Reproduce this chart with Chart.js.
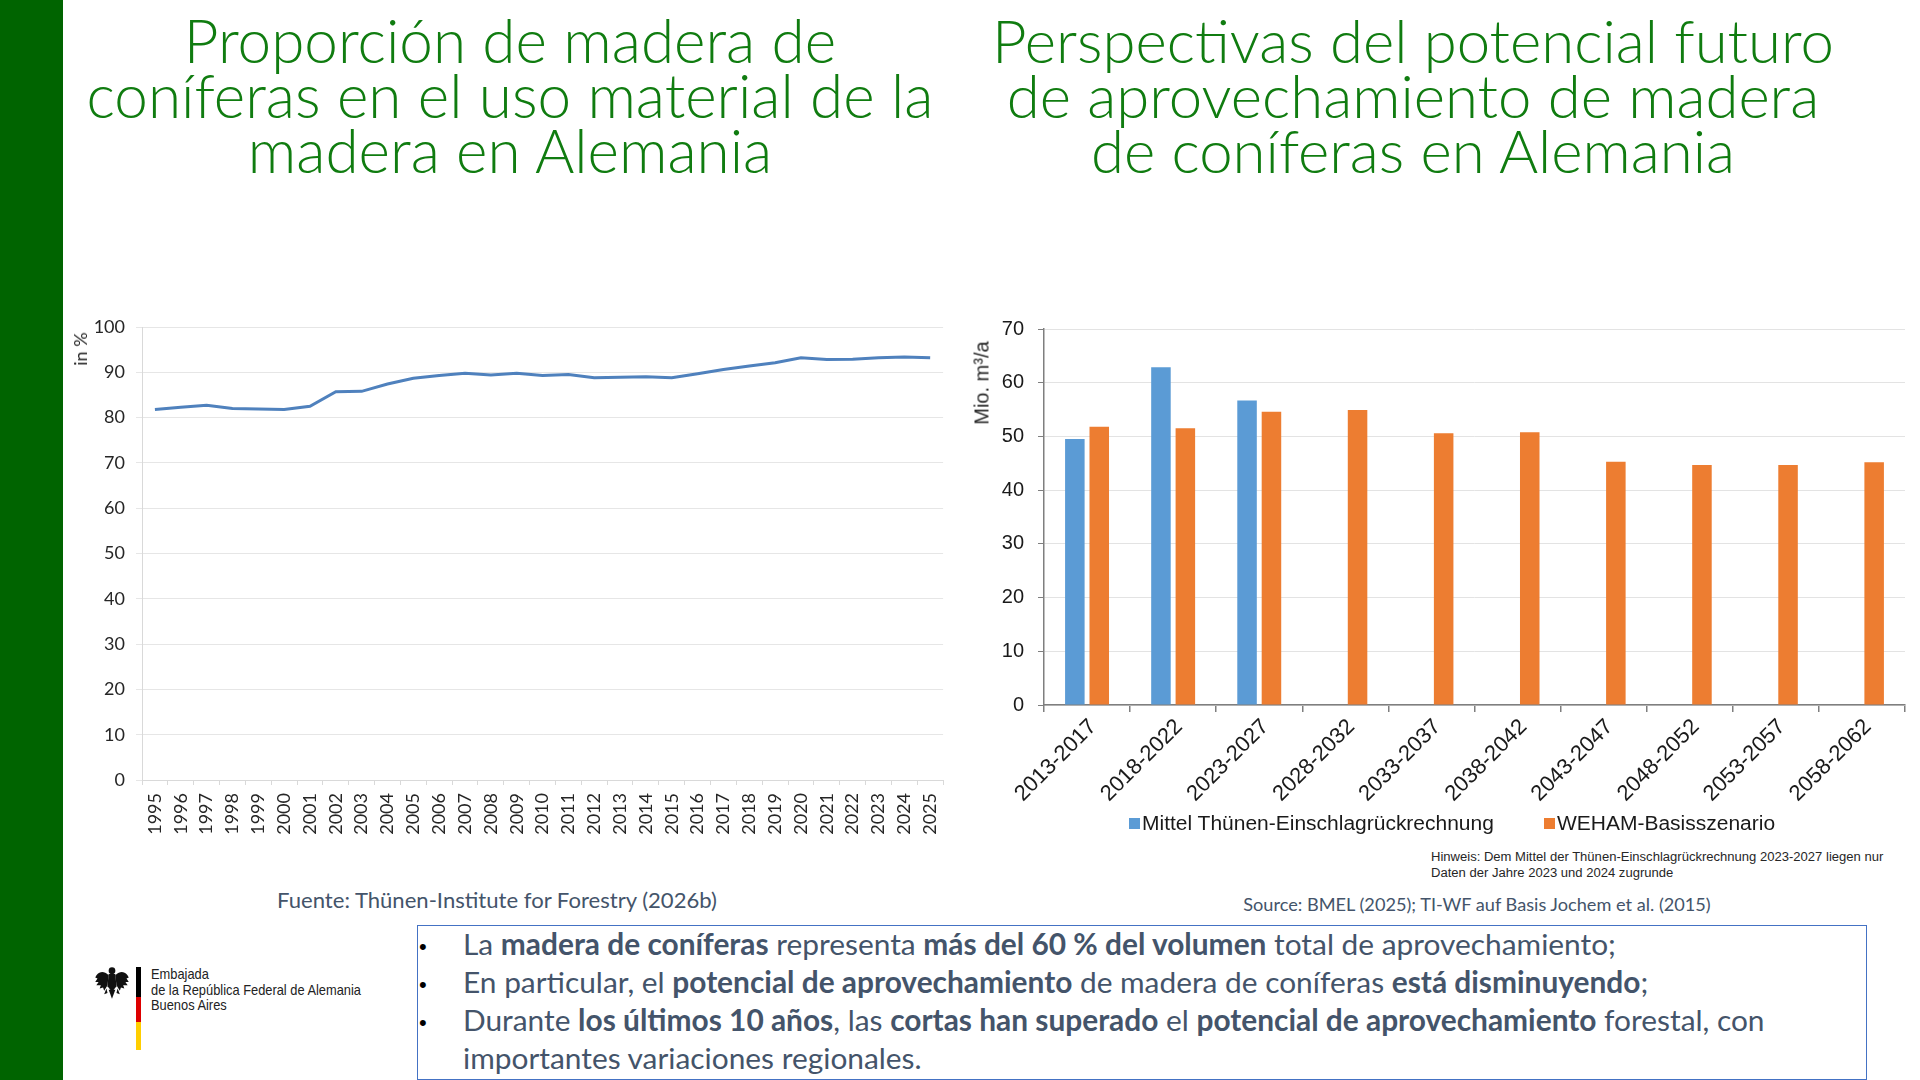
<!DOCTYPE html>
<html lang="es">
<head>
<meta charset="utf-8">
<title>Madera de coníferas en Alemania</title>
<script src="https://cdn.jsdelivr.net/npm/chart.js@4.4.1/dist/chart.umd.min.js"></script>
<style>
    html, body { margin: 0; padding: 0; }
    body {
        width: 1920px; height: 1080px; position: relative; overflow: hidden;
        background: #fff; font-family: Lato, 'Open Sans', sans-serif;
    }
    .sidebar { position: absolute; left: 0; top: 0; width: 63px; height: 1080px; background: #006400; }
    .txt { position: absolute; left: 0; top: 0; white-space: nowrap; line-height: 1; }
    .title { color: #107c10; font-size: 56px; font-weight: 300; }
    .src { color: #44546a; font-size: 22px; }
    .note { color: #262626; font-family: 'Liberation Sans', Arial, sans-serif; font-size: 13px; }
    .legend-text { color: #1a1a1a; font-family: 'Liberation Sans', Arial, sans-serif; font-size: 21px; }
    .legend-box { position: absolute; width: 11px; height: 11px; }
    .bul { color: #44546a; font-size: 28px; }
    .bul b { font-weight: 700; }
    .dot { font-family: 'Liberation Sans', Arial, sans-serif; font-size: 22px; }
    .logo { color: #222; font-family: 'Liberation Sans', Arial, sans-serif; font-size: 15px; transform-origin: 0 0; }
    .axis-title { position: absolute; white-space: nowrap; transform: translate(-50%, -50%) rotate(-90deg); color: #262626; }
    #shareChart { position: absolute; left: 60px; top: 300px; }
    #potentialChart { position: absolute; left: 970px; top: 300px; }
    .box { position: absolute; left: 417px; top: 925px; width: 1450px; height: 155px; box-sizing: border-box; border: 1.5px solid #4472c4; }
    .flag { position: absolute; left: 136px; width: 5px; }
    .eagle { position: absolute; left: 93px; top: 965px; }
</style>
</head>
<body>
<div class="sidebar"></div>

<div class="txt title" data-group="tl" data-x="510" data-align="center" data-base="63">Proporción de madera de</div>
<div class="txt title" data-group="tl" data-x="510" data-align="center" data-base="118" data-fit="847">coníferas en el uso material de la</div>
<div class="txt title" data-group="tl" data-x="510" data-align="center" data-base="173">madera en Alemania</div>

<div class="txt title" data-group="tr" data-x="1413" data-align="center" data-base="63" data-fit="842">Perspectivas del potencial futuro</div>
<div class="txt title" data-group="tr" data-x="1413" data-align="center" data-base="118">de aprovechamiento de madera</div>
<div class="txt title" data-group="tr" data-x="1413" data-align="center" data-base="173">de coníferas en Alemania</div>

<canvas id="shareChart" width="900" height="560"></canvas>
<canvas id="potentialChart" width="950" height="515"></canvas>
<div id="potentialLegend"></div>

<div class="axis-title" style="left:80px; top:349px; font-family:Lato, sans-serif; font-size:18px;">in %</div>
<div class="axis-title" style="left:982px; top:383px; font-family:'Liberation Sans', Arial, sans-serif; font-size:20px;">Mio. m³/a</div>

<div class="txt note" data-group="note" data-x="1431" data-base="861" data-fit="453">Hinweis: Dem Mittel der Thünen-Einschlagrückrechnung 2023-2027 liegen nur</div>
<div class="txt note" data-group="note" data-x="1431" data-base="877">Daten der Jahre 2023 und 2024 zugrunde</div>

<div class="txt src" data-group="s1" data-x="497" data-align="center" data-base="908" data-fit="440">Fuente: Thünen-Institute for Forestry (2026b)</div>
<div class="txt src" data-group="s2" data-x="1477" data-align="center" data-base="911" data-fit="468">Source: BMEL (2025); TI-WF auf Basis Jochem et al. (2015)</div>

<div class="box"></div>
<div class="txt dot" data-x="419" data-base="954">•</div>
<div class="txt dot" data-x="419" data-base="992">•</div>
<div class="txt dot" data-x="419" data-base="1030">•</div>
<div class="txt bul" data-group="bul" data-x="463" data-base="955">La <b>madera de coníferas</b> representa <b>más del 60 % del volumen</b> total de aprovechamiento;</div>
<div class="txt bul" data-group="bul" data-x="463" data-base="993">En particular, el <b>potencial de aprovechamiento</b> de madera de coníferas <b>está disminuyendo</b>;</div>
<div class="txt bul" data-group="bul" data-x="463" data-base="1031" data-fit="1302">Durante <b>los últimos 10 años</b>, las <b>cortas han superado</b> el <b>potencial de aprovechamiento</b> forestal, con</div>
<div class="txt bul" data-group="bul" data-x="463" data-base="1069">importantes variaciones regionales.</div>

<!-- embassy logo -->
<svg class="eagle" width="38" height="36" viewBox="0 0 34 32">
    <g fill="#111">
        <circle cx="17" cy="5" r="3"/>
        <path d="M14 8 L20 8 L21 19 L17 24 L13 19 Z"/>
        <path d="M14 9 C9 4, 4 6, 2 11 L4 12 L2 15 L5 15 L3 18 L7 18 L6 21 L9 20 L10 23 L13 18 Z"/>
        <path d="M20 9 C25 4, 30 6, 32 11 L30 12 L32 15 L29 15 L31 18 L27 18 L28 21 L25 20 L24 23 L21 18 Z"/>
        <path d="M14 22 L17 30 L20 22 Z"/>
        <path d="M12 21 L10 26 L13 25 Z M22 21 L24 26 L21 25 Z"/>
    </g>
</svg>
<div class="flag" style="top:967px; height:30px; background:#000;"></div>
<div class="flag" style="top:997px; height:25px; background:#dd0000;"></div>
<div class="flag" style="top:1022px; height:28px; background:#ffce00;"></div>
<div class="txt logo" data-group="logo" data-squeeze="1" data-x="151" data-base="979">Embajada</div>
<div class="txt logo" data-group="logo" data-squeeze="1" data-x="151" data-base="995" data-fit="210">de la República Federal de Alemania</div>
<div class="txt logo" data-group="logo" data-squeeze="1" data-x="151" data-base="1010">Buenos Aires</div>

<script>
// Softwood share in material wood use (left chart)
const years = ['1995', '1996', '1997', '1998', '1999', '2000', '2001', '2002', '2003', '2004',
    '2005', '2006', '2007', '2008', '2009', '2010', '2011', '2012', '2013', '2014', '2015',
    '2016', '2017', '2018', '2019', '2020', '2021', '2022', '2023', '2024', '2025'];
const softwoodShare = [81.8, 82.3, 82.7, 82.0, 81.9, 81.8, 82.5, 85.7, 85.8, 87.4,
    88.7, 89.3, 89.8, 89.4, 89.8, 89.3, 89.5, 88.8, 88.9, 89.0, 88.8,
    89.7, 90.6, 91.4, 92.1, 93.2, 92.8, 92.9, 93.2, 93.4, 93.2];

// Softwood harvest potential (right chart), Mio. m³/a
const periods = ['2013-2017', '2018-2022', '2023-2027', '2028-2032', '2033-2037',
    '2038-2042', '2043-2047', '2048-2052', '2053-2057', '2058-2062'];
const thuenenMean = [49.5, 62.9, 56.7, null, null, null, null, null, null, null];
const wehamBase = [51.8, 51.5, 54.6, 54.9, 50.6, 50.8, 45.3, 44.7, 44.7, 45.2];
const seriesNames = ['Mittel Thünen-Einschlagrückrechnung', 'WEHAM-Basisszenario'];
const seriesColors = ['#5b9bd5', '#ed7d31'];

const shareTicks = [0, 10, 20, 30, 40, 50, 60, 70, 80, 90, 100];
const potentialTicks = [0, 10, 20, 30, 40, 50, 60, 70];

/**
 * Legend of the bar chart, placed like the slide (wide gap between the two items)
 */
function buildLegend() {
    const host = document.getElementById('potentialLegend');
    const boxX = [1129, 1544];
    seriesNames.forEach((name, i) => {
        const box = document.createElement('div');
        box.className = 'legend-box';
        box.style.left = boxX[i] + 'px';
        box.style.top = '818px';
        box.style.background = seriesColors[i];
        host.appendChild(box);

        const label = document.createElement('div');
        label.className = 'txt legend-text';
        label.textContent = name;
        label.dataset.group = 'legend';
        label.dataset.x = boxX[i] + 13;
        label.dataset.base = 830;
        if (i === 0) label.dataset.fit = 352;
        host.appendChild(label);
    });
}

/**
 * Fit text groups to the widths of the original slide and put them on their baselines
 */
function baselineOf(el) {
    const probe = document.createElement('span');
    probe.style.cssText = 'display:inline-block;width:0;height:0;vertical-align:baseline';
    el.appendChild(probe);
    const y = probe.getBoundingClientRect().top;
    probe.remove();
    return y;
}

function layoutTexts() {
    const groups = {};
    document.querySelectorAll('[data-group]').forEach(el => {
        (groups[el.dataset.group] = groups[el.dataset.group] || []).push(el);
    });
    Object.values(groups).forEach(els => {
        const ref = els.find(e => e.dataset.fit);
        if (!ref) return;
        const k = Number(ref.dataset.fit) / ref.getBoundingClientRect().width;
        els.forEach(e => {
            if (e.dataset.squeeze) {
                e.style.transform = 'scaleX(' + k + ')';
            } else {
                e.style.fontSize = (parseFloat(getComputedStyle(e).fontSize) * k) + 'px';
            }
        });
    });
    document.querySelectorAll('[data-base]').forEach(el => {
        const w = el.getBoundingClientRect().width;
        const x = Number(el.dataset.x);
        el.style.left = (el.dataset.align === 'center' ? x - w / 2 : x) + 'px';
        el.style.top = '0px';
        el.style.top = (Number(el.dataset.base) - baselineOf(el)) + 'px';
    });
}

/**
 * Left chart: share of softwood (line)
 */
function initShareChart() {
    const ctx = document.getElementById('shareChart');
    new Chart(ctx, {
        type: 'line',
        data: {
            labels: years,
            datasets: [{
                data: softwoodShare,
                borderColor: '#4f81bd',
                borderWidth: 3,
                pointRadius: 0,
                tension: 0,
                fill: false
            }]
        },
        options: {
            responsive: false,
            animation: false,
            layout: { padding: { top: 27, right: 14, bottom: 0, left: 0 } },
            plugins: { legend: { display: false }, tooltip: { enabled: false } },
            scales: {
                x: {
                    offset: true,
                    grid: { offset: true, drawOnChartArea: false, tickLength: 5, color: '#d9d9d9' },
                    border: { color: '#d9d9d9' },
                    ticks: {
                        autoSkip: false, minRotation: 90, maxRotation: 90, padding: 8,
                        color: '#262626',
                        font: { family: 'Lato', size: 18 }
                    },
                    afterFit: scale => { scale.height = 80; }
                },
                y: {
                    min: 0,
                    max: 100,
                    afterBuildTicks: scale => { scale.ticks = shareTicks.map(v => ({ value: v })); },
                    grid: { color: '#e6e6e6', tickLength: 6 },
                    border: { color: '#d9d9d9' },
                    ticks: {
                        padding: 11,
                        color: '#262626',
                        font: { family: 'Lato', size: 18 }
                    },
                    afterFit: scale => { scale.width = 82; }
                }
            }
        }
    });
}

/**
 * Right chart: future harvest potential (grouped bars)
 */
function initPotentialChart() {
    const ctx = document.getElementById('potentialChart');
    const arial = "'Liberation Sans', Arial, sans-serif";
    new Chart(ctx, {
        type: 'bar',
        data: {
            labels: periods,
            datasets: [
                { label: seriesNames[0], data: thuenenMean, backgroundColor: seriesColors[0] },
                { label: seriesNames[1], data: wehamBase, backgroundColor: seriesColors[1] }
            ]
        },
        options: {
            responsive: false,
            animation: false,
            categoryPercentage: 0.567,
            barPercentage: 0.8,
            layout: { padding: { top: 29, right: 15, bottom: 0, left: 0 } },
            plugins: {
                tooltip: { enabled: false },
                legend: { display: false }
            },
            scales: {
                x: {
                    grid: { drawOnChartArea: false, tickLength: 7, color: '#7f7f7f', lineWidth: 1.5 },
                    border: { color: '#7f7f7f', width: 1.5 },
                    ticks: {
                        autoSkip: false, minRotation: 45, maxRotation: 45, padding: 2,
                        labelOffset: 6,
                        color: '#1a1a1a',
                        font: { family: arial, size: 22 }
                    },
                    afterFit: scale => { scale.height = 110; }
                },
                y: {
                    min: 0,
                    max: 70,
                    afterBuildTicks: scale => { scale.ticks = potentialTicks.map(v => ({ value: v })); },
                    grid: { color: '#e3e3e3', tickColor: '#7f7f7f', tickLength: 6 },
                    border: { color: '#7f7f7f', width: 1.5 },
                    ticks: {
                        padding: 14,
                        color: '#1a1a1a',
                        font: { family: arial, size: 20 }
                    },
                    afterFit: scale => { scale.width = 74; }
                }
            }
        }
    });
}

document.fonts.ready.then(() => {
    buildLegend();
    layoutTexts();
    initShareChart();
    initPotentialChart();
});
</script>
</body>
</html>
